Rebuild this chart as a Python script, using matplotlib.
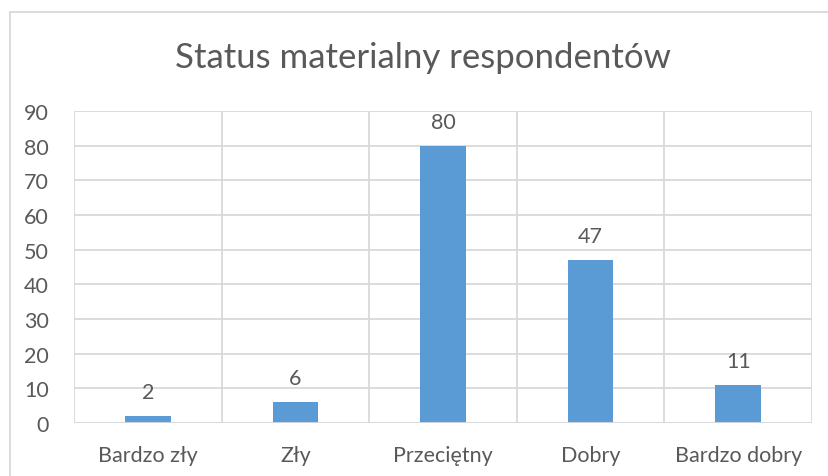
import numpy as np
import matplotlib.pyplot as plt
from matplotlib.lines import Line2D

# Data
categories = ["Bardzo zły", "Zły", "Przeciętny", "Dobry", "Bardzo dobry"]
values = [2, 6, 80, 47, 11]
title = "Status materialny respondentów"

plt.rcParams['font.family'] = ['Lato', 'DejaVu Sans']
text_color = '#595959'
grid_color = '#D9D9D9'
bar_color = '#5B9BD5'

fig = plt.figure(figsize=(8.29, 4.77), dpi=100)
W, H = 829, 477
ax = fig.add_axes([74 / W, 1 - 424 / H, (812 - 74) / W, (424 - 112) / H])

x = np.arange(len(categories))
bars = ax.bar(x, values, width=0.31, color=bar_color, zorder=3)

for xi, v in zip(x, values):
    ax.annotate(str(v), (xi, v), xytext=(0, 10), textcoords='offset points',
                ha='center', va='bottom', fontsize=15.5, color=text_color)

ax.set_xlim(-0.5, len(categories) - 0.5)
ax.set_ylim(0, 90)
ax.set_yticks(np.arange(0, 91, 10))
ax.set_xticks(x)
ax.set_xticklabels(categories)
ax.tick_params(axis='both', length=0, labelsize=15.5, colors=text_color)
ax.tick_params(axis='y', pad=18)
ax.tick_params(axis='x', pad=16)

# grid: horizontal at ticks, vertical between categories
ax.yaxis.grid(True, color=grid_color, linewidth=1.3, zorder=0)
for b in np.arange(-0.5, len(categories), 1.0):
    ax.axvline(b, color=grid_color, linewidth=1.3, zorder=0)
for s in ax.spines.values():
    s.set_visible(False)
ax.axhline(0, color=grid_color, linewidth=1.3, zorder=4)

fig.text(423 / W, 1 - 58 / H, title, ha='center', va='center',
         fontsize=25, color=text_color)

# outer chart frame (left and top visible)
fig.add_artist(Line2D([10 / W, 10 / W], [0, 1 - 13 / H], transform=fig.transFigure,
                      color=grid_color, linewidth=1.3))
fig.add_artist(Line2D([10 / W, 1], [1 - 13 / H, 1 - 13 / H], transform=fig.transFigure,
                      color=grid_color, linewidth=1.3))

fig.savefig('out.png', dpi=100)
